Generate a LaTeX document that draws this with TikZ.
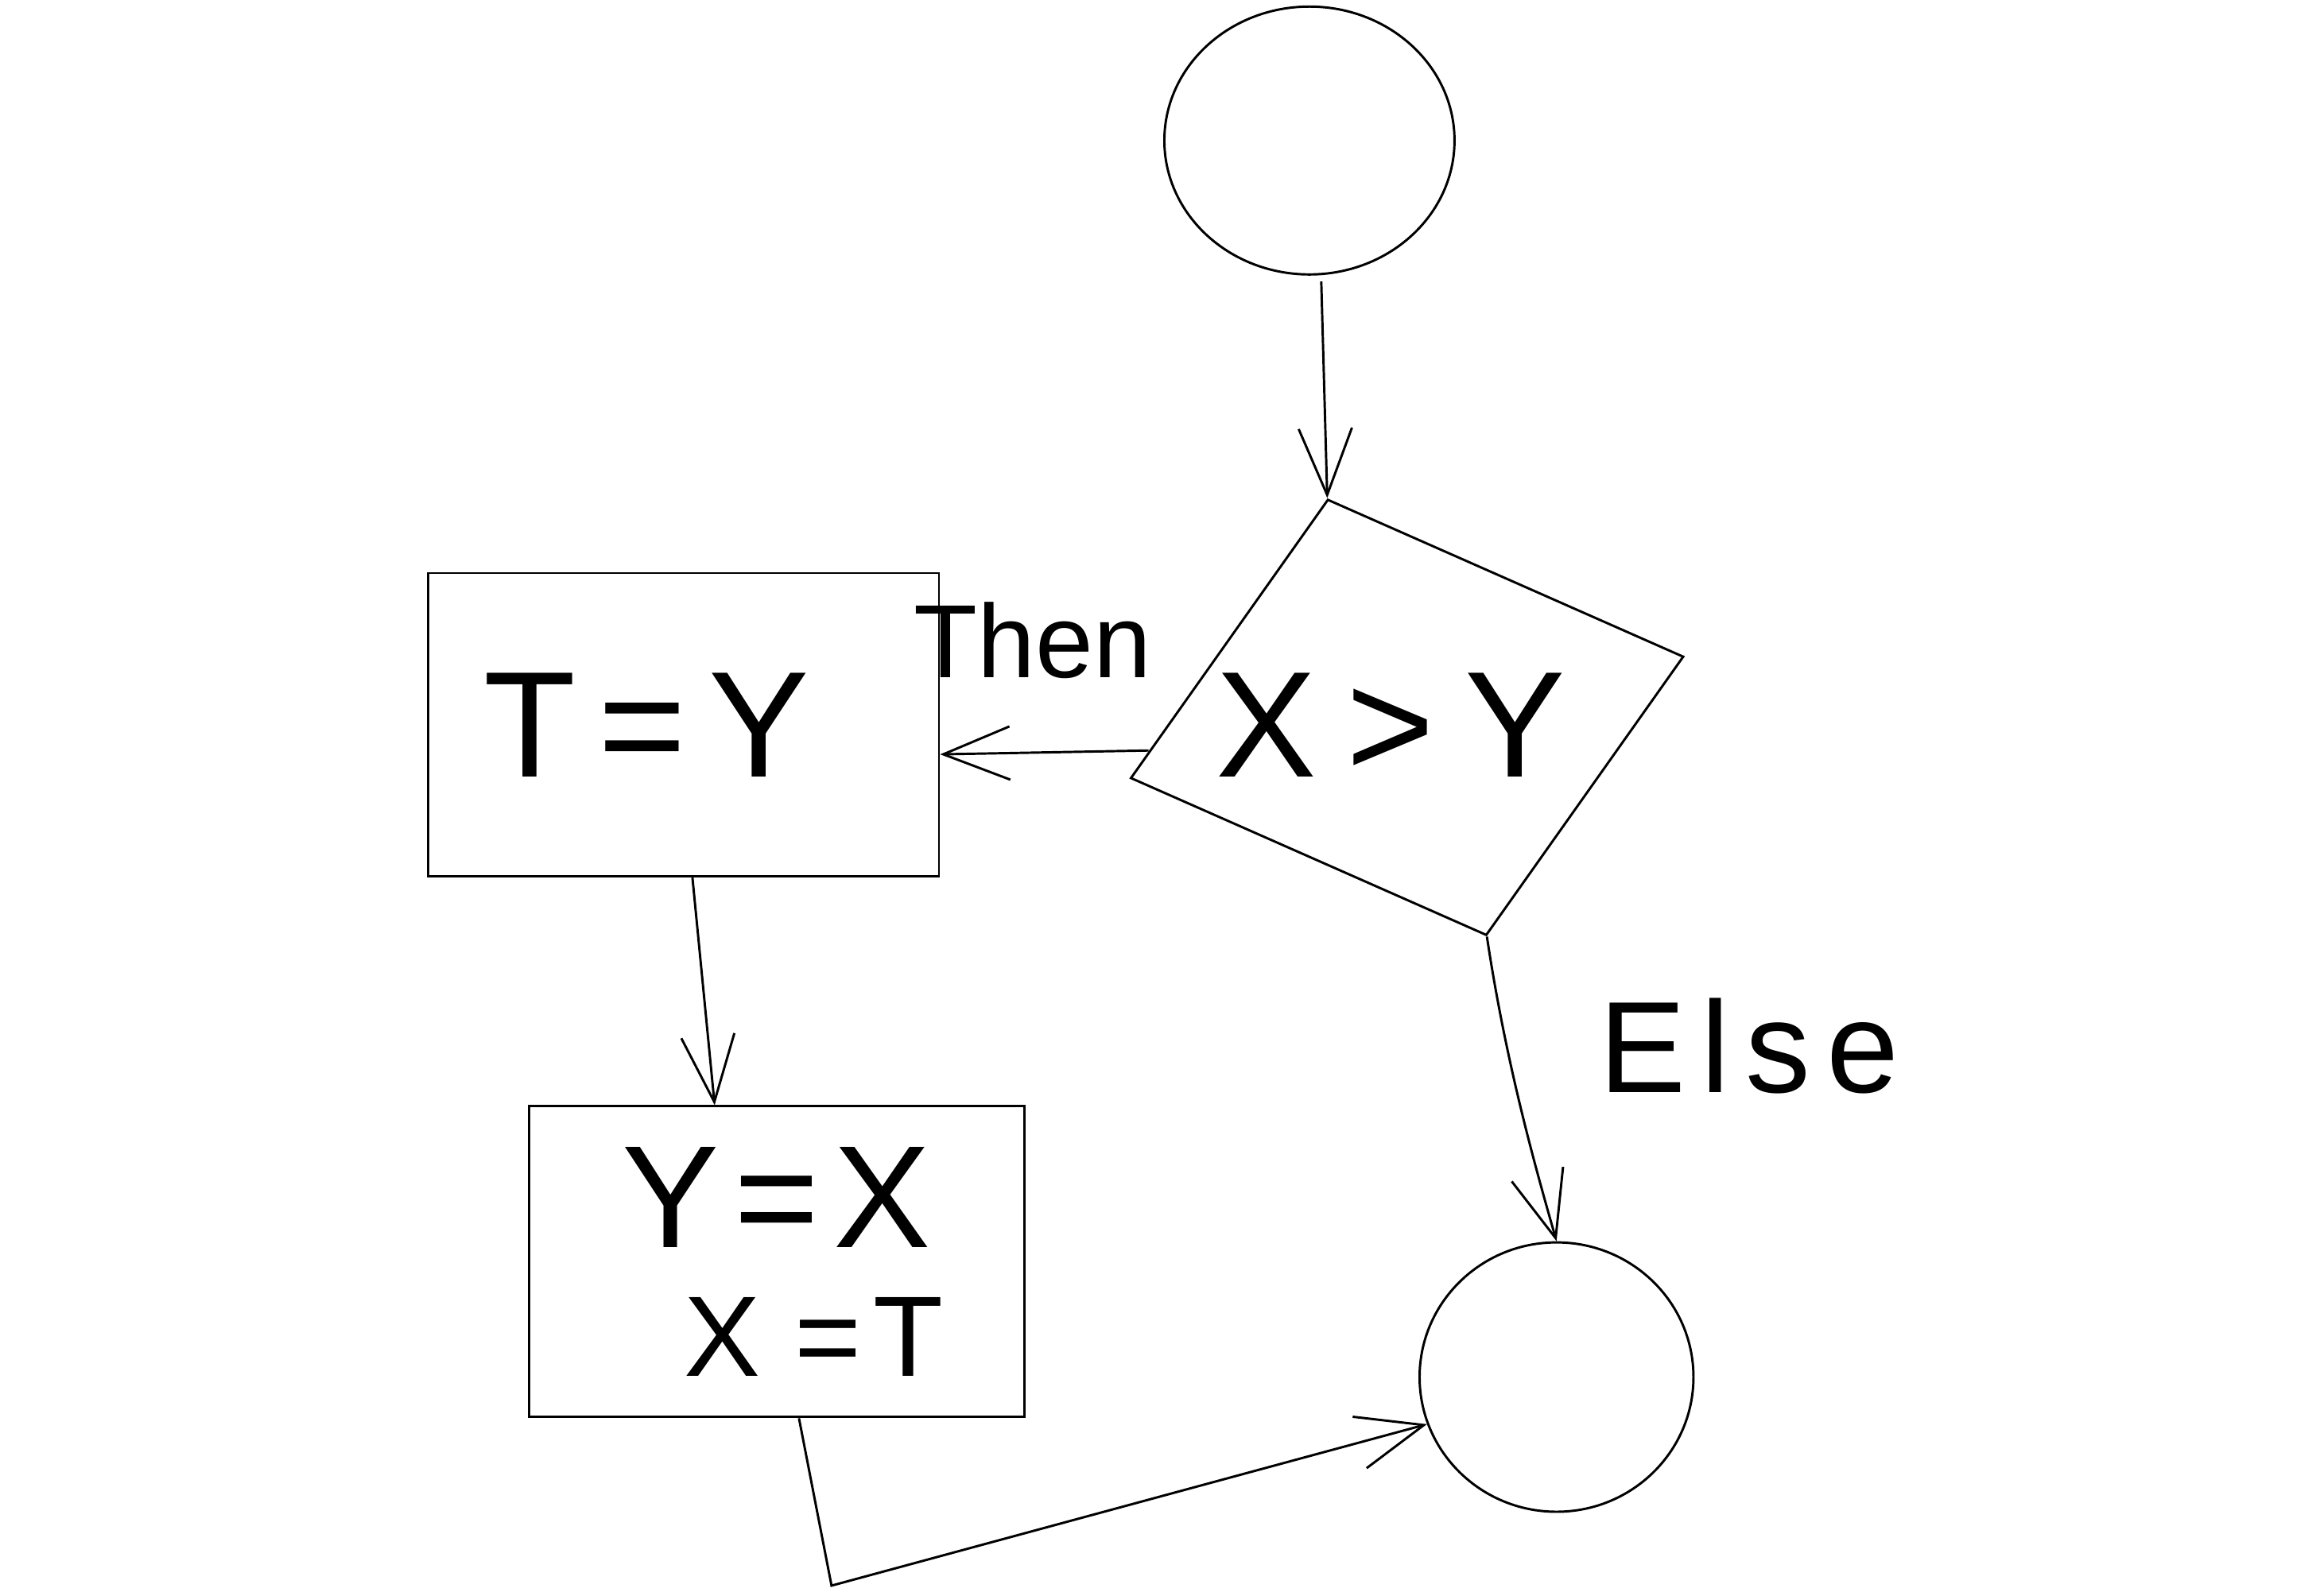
\documentclass[tikz,border=0pt]{standalone}
\usepackage{fontspec}
\setmainfont{Liberation Sans}
\usetikzlibrary{arrows.meta,shapes.geometric,calc}
\begin{document}
\begin{tikzpicture}[x=0.01cm,y=-0.01cm,
  line width=0.45pt,
  circ/.style={ellipse, draw, inner sep=0},
  box/.style={rectangle, draw, inner sep=0, align=center},
  flow/.style={draw, -{Straight Barb[length=4.5mm,width=3.6mm]}},
  big/.style={font=\fontsize{29}{34}\selectfont},
  lbl/.style={font=\fontsize{20}{24}\selectfont}]
\useasboundingbox (0,0) rectangle (1568,1079);

% start and end circles
\node[circ, minimum width=1.96cm, minimum height=1.81cm] (start) at (885,95) {};
\node[circ, minimum width=1.85cm, minimum height=1.82cm] (stop) at (1052,931) {};

% decision: a tilted, slightly sheared square
\begin{scope}[shift={(951,485)}, cm={1.20,-0.53,0.665,0.94,(0,0)}]
  \node[draw, rectangle, transform shape, minimum size=2cm, inner sep=0] (test) at (0,0) {};
\end{scope}
\node[big] (cond) at (940,490) {X\hspace{0.2em}>\hspace{0.2em}Y};

% process boxes
\node[box, big, minimum width=3.45cm, minimum height=2.05cm] (tset) at (462,490)
  {\hspace*{-0.5cm}T\hspace{0.15em}=\hspace{0.15em}Y};
\node[box, minimum width=3.35cm, minimum height=2.1cm] (swap) at (525,853)
  {\fontsize{28}{28}\selectfont Y\hspace{0.1em}=\hspace{0.1em}X\\[0.3cm]
   \fontsize{22}{22}\selectfont\hspace*{0.5cm}X\hspace{0.3em}=\hspace{0.1em}T};

% connectors
\draw[flow] ($(start.south)+(8,4)$) -- (test.north west);
\draw[flow] ($(test.south west)!0.1!(test.north west)$) -- ($(tset.east)+(0,20)$);
\node[lbl] (then) at (698,433) {Then};
\draw[flow] ($(tset.south)+(6,0)$) -- ($(swap.north)+(-42,0)$);
\draw[flow] (test.south east) .. controls (1018,720) and (1038,790) .. (stop.north);
\node[font=\fontsize{25}{30}\selectfont] (else) at (1182,707) {E\hspace{0.12em}l\hspace{0.12em}s\hspace{0.12em}e};
\coordinate (bend) at (562,1072);
\draw[flow] ($(swap.south)+(15,0)$) -- (bend) -- (stop.200);
\end{tikzpicture}
\end{document}
